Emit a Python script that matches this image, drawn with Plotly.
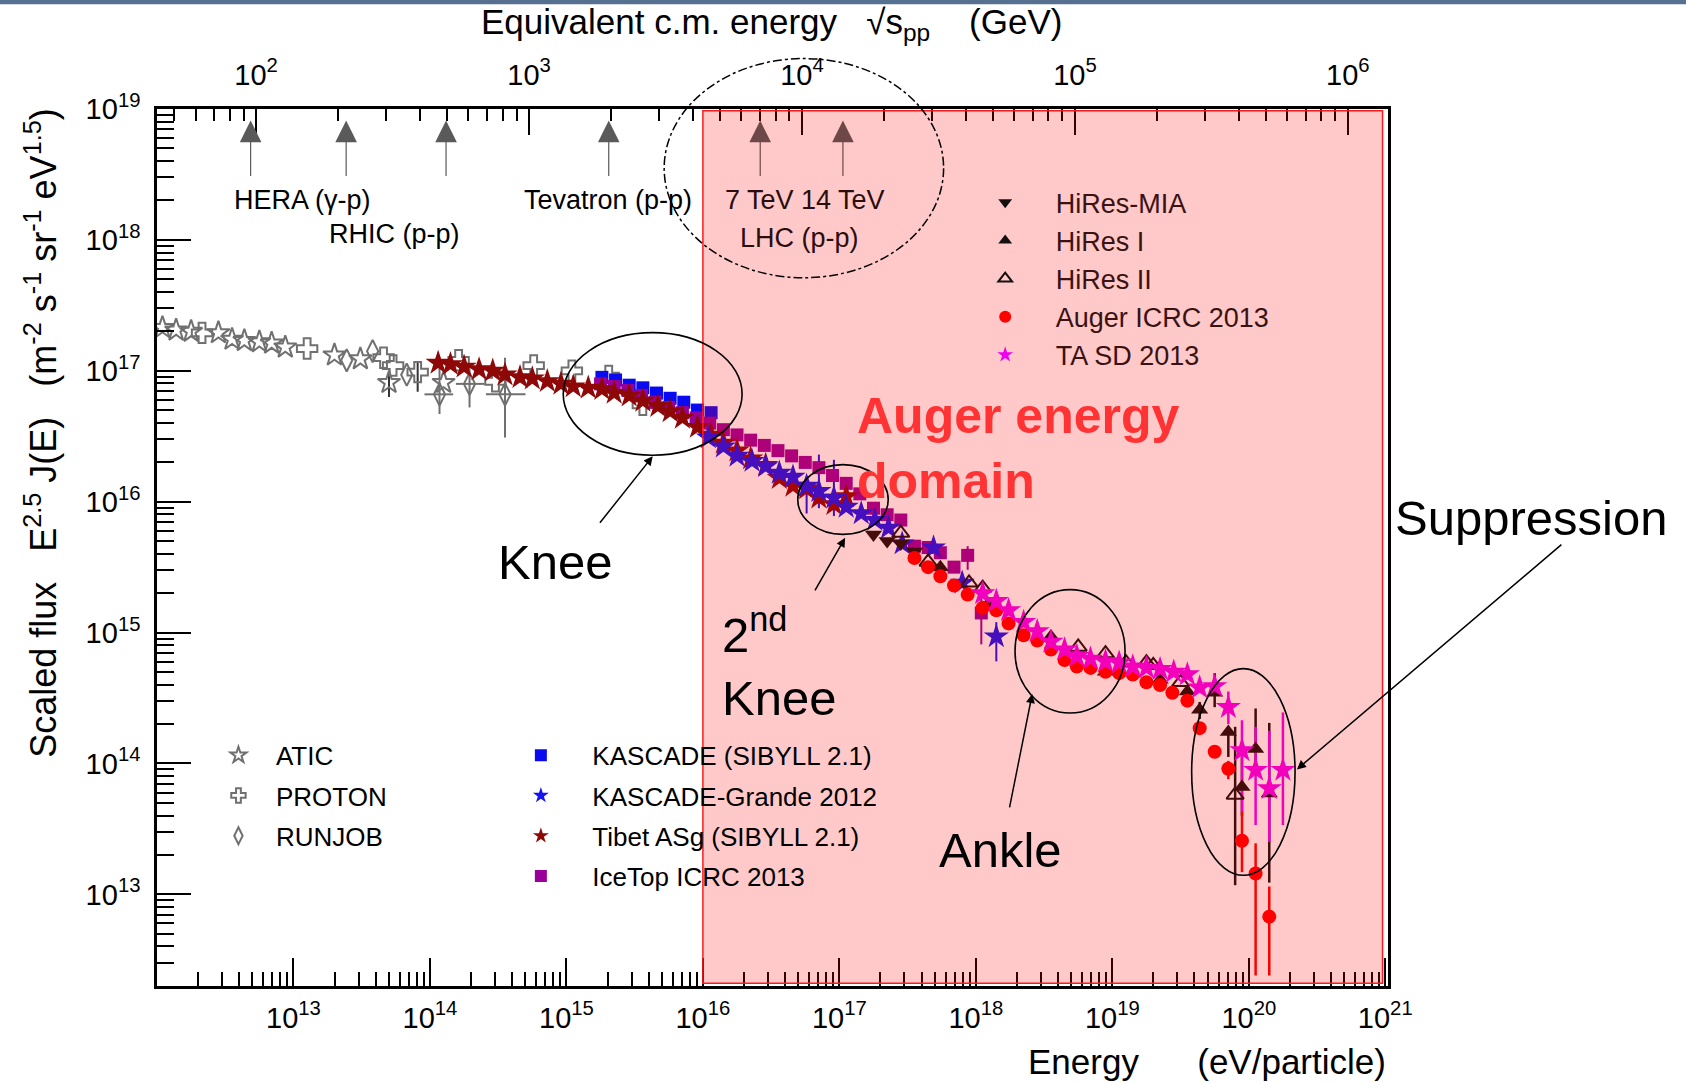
import plotly.graph_objects as go

FONT = "Liberation Sans, Arial, Helvetica, sans-serif"

# ---------------- data (log10 of energy in eV, log10 of scaled flux) ----------------
atic_logE = [12.04, 12.14, 12.25, 12.45, 12.55, 12.64, 12.75, 12.84, 12.94, 13.30, 13.49, 13.70, 14.10]
atic_logF = [17.33, 17.31, 17.30, 17.29, 17.24, 17.23, 17.22, 17.21, 17.18, 17.12, 17.09, 16.91, 16.91]

proton_logE = [12.33, 13.10, 13.66, 13.73, 13.91, 14.21, 14.48, 14.76, 15.04, 15.31, 15.56]
proton_logF = [17.29, 17.17, 17.10, 17.04, 16.99, 17.08, 16.92, 17.04, 17.00, 16.96, 16.74]

runjob_logE = [13.39, 13.58, 13.83, 14.07, 14.29, 14.55]
runjob_logF = [17.08, 17.15, 16.97, 16.82, 16.90, 16.82]

kascade_logE = [15.26, 15.36, 15.46, 15.56, 15.66, 15.76, 15.86, 15.96, 16.06]
kascade_logF = [16.95, 16.93, 16.89, 16.87, 16.83, 16.79, 16.76, 16.70, 16.68]

icetop_logE = [15.25, 15.35, 15.45, 15.55, 15.65, 15.75, 15.85, 15.95, 16.05, 16.15, 16.25, 16.35,
               16.45, 16.55, 16.65, 16.75, 16.85, 16.95, 17.05, 17.15, 17.25, 17.35, 17.45, 17.55,
               17.65, 17.74, 17.84, 17.94, 18.04]
icetop_logF = [16.90, 16.88, 16.85, 16.81, 16.76, 16.72, 16.68, 16.64, 16.60, 16.55, 16.51, 16.47,
               16.43, 16.39, 16.35, 16.30, 16.26, 16.20, 16.14, 16.06, 15.95, 15.90, 15.86, 15.66,
               15.65, 15.61, 15.50, 15.59, 15.15]

tibet_logE = [14.06, 14.15, 14.25, 14.36, 14.46, 14.55, 14.66, 14.75, 14.86, 14.96, 15.05, 15.16,
              15.26, 15.35, 15.46, 15.56, 15.67, 15.76, 15.85, 15.96, 16.06, 16.15, 16.25, 16.35,
              16.46, 16.56, 16.66, 16.76, 16.85, 16.96, 17.05]
tibet_logF = [17.06, 17.05, 17.03, 17.01, 17.00, 16.97, 16.95, 16.94, 16.92, 16.90, 16.88, 16.87,
              16.86, 16.83, 16.81, 16.77, 16.73, 16.69, 16.64, 16.57, 16.51, 16.45, 16.39, 16.33,
              16.28, 16.18, 16.12, 16.10, 16.03, 15.98, 16.04]

kg_logE = [16.04, 16.15, 16.25, 16.36, 16.46, 16.56, 16.66, 16.76, 16.85, 16.96, 17.05, 17.16,
           17.26, 17.36, 17.46, 17.69, 17.90, 18.15]
kg_logF = [16.49, 16.42, 16.35, 16.31, 16.27, 16.22, 16.19, 16.12, 16.08, 16.03, 15.96, 15.91,
           15.86, 15.80, 15.68, 15.65, 15.38, 14.97]

mia_logE = [17.25, 17.35, 17.45, 17.55]
mia_logF = [15.75, 15.70, 15.68, 15.62]

hires1_logE = [17.74, 18.09, 18.55, 18.95, 19.35, 19.55, 19.64, 19.75, 19.85, 19.95, 20.05, 20.15]
hires1_logF = [15.50, 15.22, 14.97, 14.70, 14.64, 14.55, 14.41, 14.54, 14.24, 13.82, 14.11, 13.77]

hires2_logE = [17.45, 17.65, 17.95, 18.05, 18.75, 18.95, 19.10, 19.25, 19.30, 19.50, 19.90]
hires2_logF = [15.76, 15.54, 15.38, 15.34, 14.89, 14.84, 14.77, 14.77, 14.75, 14.62, 13.76]

auger_logE = [17.55, 17.65, 17.74, 17.84, 17.94, 18.05, 18.15, 18.24, 18.35, 18.45, 18.55, 18.65,
              18.74, 18.84, 18.95, 19.05, 19.15, 19.25, 19.35, 19.44, 19.55, 19.64, 19.75, 19.85,
              19.95, 20.05, 20.15]
auger_logF = [15.57, 15.50, 15.43, 15.36, 15.29, 15.19, 15.17, 15.07, 14.98, 14.94, 14.87, 14.79,
              14.74, 14.73, 14.70, 14.69, 14.68, 14.62, 14.60, 14.54, 14.48, 14.27, 14.09, 13.96,
              13.41, 13.16, 12.83]

ta_logE = [18.05, 18.15, 18.24, 18.35, 18.45, 18.55, 18.65, 18.74, 18.84, 18.95, 19.05, 19.15,
           19.25, 19.35, 19.45, 19.55, 19.64, 19.75, 19.85, 19.95, 20.05, 20.15, 20.25]
ta_logF = [15.30, 15.24, 15.17, 15.08, 15.01, 14.93, 14.87, 14.82, 14.80, 14.78, 14.77, 14.74,
           14.73, 14.72, 14.70, 14.68, 14.58, 14.59, 14.43, 14.10, 13.95, 13.81, 13.95]

# error bars (log10 upper / lower)
atic_err_logE, atic_err_hi, atic_err_lo = [13.70], [16.99], [16.80]
proton_err_logE, proton_err_hi, proton_err_lo = [13.91], [17.07], [16.84]
runjob_err_logE = [14.07, 14.29, 14.55]
runjob_err_hi = [17.05, 17.04, 17.10]
runjob_err_lo = [16.67, 16.72, 16.49]
runjob_xerr_lo = [13.96, 14.19, 14.41]
runjob_xerr_hi = [14.17, 14.40, 14.70]
kg_err_logE, kg_err_hi, kg_err_lo = [16.76, 16.85, 16.96, 18.15], [16.16, 16.36, 16.32, 15.08], [15.91, 15.95, 15.89, 14.78]
icetop_err_logE, icetop_err_hi, icetop_err_lo = [17.94, 18.04], [15.66, 15.26], [15.48, 14.91]
hires1_err_logE = [19.64, 19.75, 19.85, 19.95, 20.05, 20.15]
hires1_err_hi = [14.47, 14.69, 14.28, 14.05, 14.42, 14.31]
hires1_err_lo = [14.34, 14.43, 14.05, 13.60, 13.95, 13.09]
hires2_err_logE, hires2_err_hi, hires2_err_lo = [19.90], [14.28], [13.07]
auger_err_logE = [19.85, 19.95, 20.05, 20.15]
auger_err_hi = [14.02, 13.63, 13.39, 13.06]
auger_err_lo = [13.88, 13.17, 12.38, 12.38]
ta_err_logE = [19.85, 19.95, 20.05, 20.15, 20.25]
ta_err_hi = [14.55, 14.33, 14.28, 14.25, 14.39]
ta_err_lo = [14.30, 13.63, 13.53, 13.40, 13.53]

# axes
x_tick_exp = [13, 14, 15, 16, 17, 18, 19, 20, 21]
y_tick_exp = [13, 14, 15, 16, 17, 18, 19]
top_tick_exp = [2, 3, 4, 5, 6]
X_RANGE = [12.0, 21.02]
AUGER_DOMAIN = [16.0, 20.98]   # log10 E range of the shaded region

# collider energies on the top axis (sqrt(s) in GeV, log10)
collider_logS = [1.98, 2.33, 2.696, 3.292, 3.847, 4.15]


def pw(a):
    return [10.0 ** t for t in a]


fig = go.Figure()


def vbars(logE, hi, lo, color, width=2.0):
    xs, ys = [], []
    for e, h, l in zip(logE, hi, lo):
        xs += [10.0 ** e, 10.0 ** e, None]
        ys += [10.0 ** l, 10.0 ** h, None]
    fig.add_trace(go.Scatter(x=xs, y=ys, mode="lines", line=dict(color=color, width=width),
                             showlegend=False, hoverinfo="skip"))


def hbars(logF, lo, hi, color, width=2.0):
    xs, ys = [], []
    for f, l, h in zip(logF, lo, hi):
        xs += [10.0 ** l, 10.0 ** h, None]
        ys += [10.0 ** f, 10.0 ** f, None]
    fig.add_trace(go.Scatter(x=xs, y=ys, mode="lines", line=dict(color=color, width=width),
                             showlegend=False, hoverinfo="skip"))


GRAY = "#707070"
BLUE = "#0a0af0"
KGBLUE = "#1414f0"
TIBET = "#8e0808"
PURPLE = "#990099"
DARK = "#141010"
RED = "#ff0000"
MAGENTA = "#f000f0"

# error bars first
vbars(atic_err_logE, atic_err_hi, atic_err_lo, "#333333")
vbars(proton_err_logE, proton_err_hi, proton_err_lo, "#333333")
runjob_err_F = [runjob_logF[runjob_logE.index(e)] for e in runjob_err_logE]
vbars(runjob_err_logE, runjob_err_hi, runjob_err_lo, GRAY)
hbars(runjob_err_F, runjob_xerr_lo, runjob_xerr_hi, GRAY)
vbars(icetop_err_logE, icetop_err_hi, icetop_err_lo, PURPLE)
vbars(kg_err_logE, kg_err_hi, kg_err_lo, KGBLUE)
vbars(hires1_err_logE, hires1_err_hi, hires1_err_lo, DARK, 2.5)
vbars(hires2_err_logE, hires2_err_hi, hires2_err_lo, DARK, 2.5)
vbars(auger_err_logE, auger_err_hi, auger_err_lo, RED, 2.5)
vbars(ta_err_logE, ta_err_hi, ta_err_lo, MAGENTA, 2.5)


def series(logE, logF, name, legend, rank, symbol, size, color, lw=0):
    fig.add_trace(go.Scatter(
        x=pw(logE), y=pw(logF), mode="markers", name=name, legend=legend,
        legendgroup=name, legendrank=rank,
        marker=dict(symbol=symbol, size=size, color=color,
                    line=dict(width=lw, color=color)),
    ))


series(atic_logE, atic_logF, "ATIC", "legend", 1, "star-open", 17, GRAY, 2)
series(proton_logE, proton_logF, "PROTON", "legend", 2, "cross-open", 17, GRAY, 2)
series(runjob_logE, runjob_logF, "RUNJOB", "legend", 3, "diamond-tall-open", 16, GRAY, 2)
series(kascade_logE, kascade_logF, "KASCADE (SIBYLL 2.1)", "legend2", 1, "square", 13, BLUE)
series(icetop_logE, icetop_logF, "IceTop ICRC 2013", "legend2", 4, "square", 13, PURPLE)
series(tibet_logE, tibet_logF, "Tibet ASg (SIBYLL 2.1)", "legend2", 3, "star", 19, TIBET)
series(kg_logE, kg_logF, "KASCADE-Grande 2012", "legend2", 2, "star", 19, KGBLUE)
series(mia_logE, mia_logF, "HiRes-MIA", "legend3", 1, "triangle-down", 15, DARK)
series(hires2_logE, hires2_logF, "HiRes II", "legend3", 3, "triangle-up-open", 15, DARK, 2)
series(hires1_logE, hires1_logF, "HiRes I", "legend3", 2, "triangle-up", 15, DARK)
series(auger_logE, auger_logF, "Auger ICRC 2013", "legend3", 4, "circle", 14, RED)
series(ta_logE, ta_logF, "TA SD 2013", "legend3", 5, "star", 19, MAGENTA)

# empty trace so that the top (sqrt s) axis exists
fig.add_trace(go.Scatter(x=[None], y=[None], xaxis="x2", yaxis="y", showlegend=False, hoverinfo="skip"))


# ---------------- axes ----------------
def sup_labels(exps):
    return ["10<sup>%d</sup>" % e for e in exps]


x_minor = [m * 10.0 ** d for d in range(12, 21) for m in range(2, 10)]
y_minor = [m * 10.0 ** d for d in range(12, 19) for m in range(2, 10) if m * 10.0 ** d > 10 ** 12.3]
top_minor = [m * 10.0 ** d for d in range(1, 7) for m in range(2, 10)
             if 10 ** 1.637 < m * 10.0 ** d < 10 ** 6.147]

tickfont = dict(family=FONT, size=29, color="black")

fig.update_layout(
    width=1686, height=1083,
    margin=dict(l=157, r=298, t=109, b=97, pad=0),
    paper_bgcolor="white", plot_bgcolor="white",
    font=dict(family=FONT, color="black"),
    xaxis=dict(type="log", range=X_RANGE, showgrid=False, zeroline=False,
               showline=True, linecolor="black", linewidth=2.5, mirror=False,
               ticks="inside", ticklen=28, tickwidth=2, tickcolor="black",
               tickvals=pw(x_tick_exp), ticktext=sup_labels(x_tick_exp), tickfont=tickfont,
               ticklabelstandoff=4,
               minor=dict(tickvals=x_minor, ticks="inside", ticklen=14, tickwidth=2,
                          tickcolor="black", showgrid=False)),
    xaxis2=dict(type="log", range=[1.637, 6.147], overlaying="x", side="top", anchor="y",
                showgrid=False, zeroline=False, showline=True, linecolor="black", linewidth=2.5,
                ticks="inside", ticklen=26, tickwidth=2, tickcolor="black",
                tickvals=pw(top_tick_exp), ticktext=sup_labels(top_tick_exp), tickfont=tickfont,
                ticklabelstandoff=10,
                minor=dict(tickvals=top_minor, ticks="inside", ticklen=12, tickwidth=2,
                           tickcolor="black", showgrid=False)),
    yaxis=dict(type="log", range=[12.3, 19.0], showgrid=False, zeroline=False,
               showline=True, linecolor="black", linewidth=2.5, mirror=True,
               ticks="inside", ticklen=34, tickwidth=2, tickcolor="black",
               tickvals=pw(y_tick_exp), ticktext=sup_labels(y_tick_exp), tickfont=tickfont,
               ticklabelstandoff=8,
               minor=dict(tickvals=y_minor, ticks="inside", ticklen=17, tickwidth=2,
                          tickcolor="black", showgrid=False)),
    legend=dict(x=0.0357, y=0.2899, xanchor="left", yanchor="top", bgcolor="rgba(0,0,0,0)",
                font=dict(family=FONT, size=26, color="black"), itemsizing="constant",
                itemwidth=65, tracegroupgap=3.5, borderwidth=0),
    legend2=dict(x=0.270, y=0.2899, xanchor="left", yanchor="top", bgcolor="rgba(0,0,0,0)",
                 font=dict(family=FONT, size=26, color="black"), itemsizing="constant",
                 itemwidth=93, tracegroupgap=3.5, borderwidth=0),
    legend3=dict(x=0.648, y=0.921, xanchor="left", yanchor="top", bgcolor="rgba(0,0,0,0)",
                 font=dict(family=FONT, size=27, color="#3a1212"), itemsizing="constant",
                 itemwidth=91, tracegroupgap=0, borderwidth=0),
)

# ---------------- shapes ----------------
span = X_RANGE[1] - X_RANGE[0]
px0 = (AUGER_DOMAIN[0] - X_RANGE[0]) / span
px1 = (AUGER_DOMAIN[1] - X_RANGE[0]) / span

shapes = []
shapes.append(dict(type="rect", xref="paper", yref="paper", x0=-0.13, x1=1.25, y0=1.1195, y1=1.125,
                   fillcolor="#56718f", line=dict(width=0), layer="above"))
shapes.append(dict(type="rect", xref="paper", yref="paper", x0=px0, x1=px1, y0=0.003, y1=0.998,
                   fillcolor="rgba(255,0,0,0.21)", line=dict(color="#ff1a1a", width=1.5),
                   layer="above"))
ell = dict(type="circle", xref="paper", yref="paper", line=dict(color="black", width=1.6),
           layer="above")
shapes.append(dict(ell, x0=0.330, x1=0.4753, y0=0.6052, y1=0.745))
shapes.append(dict(ell, x0=0.5205, x1=0.594, y0=0.515, y1=0.5945))
shapes.append(dict(ell, x0=0.697, x1=0.7864, y0=0.3113, y1=0.452))
shapes.append(dict(ell, x0=0.8405, x1=0.9245, y0=0.1262, y1=0.3619))
shapes.append(dict(type="circle", xref="paper", yref="paper", x0=0.412, x1=0.639, y0=0.8076,
                   y1=1.0575, line=dict(color="black", width=1.5, dash="dashdot"), layer="above"))
fig.update_layout(shapes=shapes)

# ---------------- annotations ----------------
ann = []
NB = "\u00a0"
ann.append(dict(xref="paper", yref="paper", x=0.499, y=1.097, xanchor="center", yanchor="middle",
                showarrow=False,
                text="Equivalent c.m. energy" + NB * 3 + "√s<sub>pp</sub>" + NB * 4 + "(GeV)",
                font=dict(family=FONT, size=35, color="black")))
ann.append(dict(xref="paper", yref="paper", x=1.0, y=-0.086, xanchor="right", yanchor="middle",
                showarrow=False, text="Energy" + NB * 6 + "(eV/particle)",
                font=dict(family=FONT, size=35, color="black")))
ann.append(dict(xref="paper", yref="paper", x=-0.094, y=0.630, xanchor="center", yanchor="middle",
                showarrow=False, textangle=-90,
                text="Scaled flux" + NB * 3 + "E<sup>2.5</sup> J(E)" + NB * 3 +
                     "(m<sup>-2</sup> s<sup>-1</sup> sr<sup>-1</sup> eV<sup>1.5</sup>)",
                font=dict(family=FONT, size=36, color="black")))

arrow_cols = ["#5a5a5a", "#5a5a5a", "#5a5a5a", "#5a5a5a", "#6e4848", "#6e4848"]
for s, c in zip(collider_logS, arrow_cols):
    ann.append(dict(xref="x2", yref="paper", x=s, y=0.9868, ax=0, ay=57, axref="pixel",
                    ayref="pixel", showarrow=True, arrowhead=2, arrowsize=3.6, arrowwidth=1.2,
                    arrowcolor=c, text=""))

small = dict(family=FONT, size=27, color="black")
small_t = dict(family=FONT, size=27, color="#2a0d0d")


def label(x, y, text, font, **kw):
    d = dict(xref="paper", yref="paper", x=x, y=y, xanchor="center", yanchor="middle",
             showarrow=False, text=text, font=font)
    d.update(kw)
    ann.append(d)


label(0.118, 0.896, "HERA (γ-p)", small)
label(0.193, 0.858, "RHIC (p-p)", small)
label(0.366, 0.896, "Tevatron (p-p)", small)
label(0.526, 0.896, "7 TeV 14 TeV", small_t)
label(0.522, 0.853, "LHC (p-p)", small_t)

big = dict(family=FONT, size=49, color="black")
label(0.323, 0.483, "Knee", big)
label(0.4577, 0.369, "2<sup>nd</sup><br>Knee", big, xanchor="left", align="left")
label(0.685, 0.155, "Ankle", big)
label(1.116, 0.534, "Suppression", big)
label(0.567, 0.613, "<b>Auger energy<br>domain</b>",
      dict(family=FONT, size=50, color="#ff3333"), xanchor="left", align="left")

for hx, hy, dx, dy in [(0.4027, 0.604, -54, 68), (0.559, 0.511, -31, 54),
                       (0.711, 0.333, -23, 115), (0.926, 0.247, 266, -226)]:
    ann.append(dict(xref="paper", yref="paper", x=hx, y=hy, ax=dx, ay=dy, showarrow=True,
                    arrowhead=2, arrowsize=1.2, arrowwidth=1.5, arrowcolor="black", text=""))

fig.update_layout(annotations=ann)

fig.write_html("out.html", config={"displayModeBar": False},
               post_script="document.body.style.margin='0';")
